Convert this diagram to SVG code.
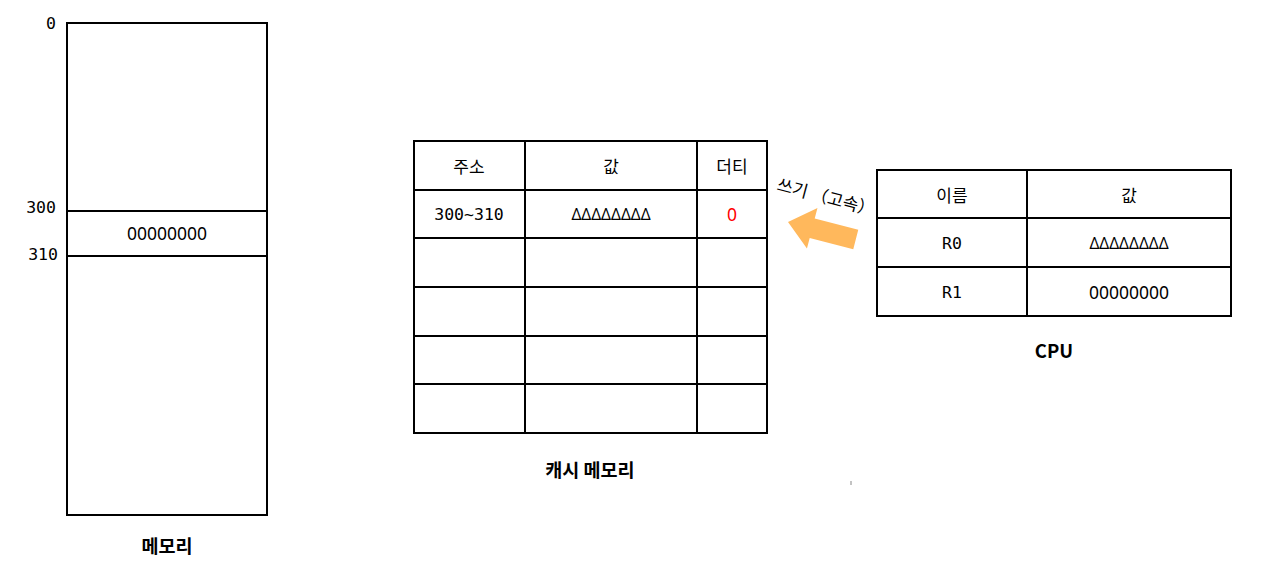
<svg xmlns="http://www.w3.org/2000/svg" width="1264" height="571" viewBox="0 0 1264 571">
<style>
.box{fill:#fff;stroke:#000;stroke-width:2}
.ln{stroke:#000;stroke-width:2;fill:none}
.mono{font-family:"DejaVu Sans Mono","Noto Sans CJK KR",monospace;font-size:16.5px;fill:#000}
.t{font-family:"Noto Sans","Noto Sans CJK KR",sans-serif;font-size:17.5px;fill:#000;text-anchor:middle;dominant-baseline:central}
.d{font-size:15.5px}
.kr{font-family:"Noto Sans CJK KR",sans-serif;font-size:17px;fill:#000;text-anchor:middle;dominant-baseline:central}
.lbl{font-family:"Noto Sans CJK KR","Noto Sans",sans-serif;font-size:18.5px;font-weight:bold;fill:#000;text-anchor:middle;dominant-baseline:central}
</style>
<rect width="1264" height="571" fill="#fff"/>
<g id="memory">
<rect class="box" x="67" y="23" width="200" height="492"/>
<line class="ln" x1="67" y1="211" x2="267" y2="211"/>
<line class="ln" x1="67" y1="256" x2="267" y2="256"/>
<text class="t" x="167" y="233">00000000</text>
<text class="mono" x="56" y="23" text-anchor="end" dominant-baseline="central">0</text>
<text class="mono" x="56" y="207" text-anchor="end" dominant-baseline="central">300</text>
<text class="mono" x="58" y="254" text-anchor="end" dominant-baseline="central">310</text>
<text class="lbl" x="167" y="545">메모리</text>
</g>
<g id="cache">
<rect class="box" x="414" y="141" width="353" height="292"/>
<line class="ln" x1="525" y1="141" x2="525" y2="433"/>
<line class="ln" x1="697" y1="141" x2="697" y2="433"/>
<line class="ln" x1="414" y1="190" x2="767" y2="190"/>
<line class="ln" x1="414" y1="238" x2="767" y2="238"/>
<line class="ln" x1="414" y1="287" x2="767" y2="287"/>
<line class="ln" x1="414" y1="336" x2="767" y2="336"/>
<line class="ln" x1="414" y1="384" x2="767" y2="384"/>
<text class="kr" x="469" y="165">주소</text>
<text class="kr" x="611" y="165">값</text>
<text class="kr" x="732" y="165">더티</text>
<text class="mono" x="469" y="214" text-anchor="middle" dominant-baseline="central">300~310</text>
<text class="t d" x="611" y="214">ΔΔΔΔΔΔΔΔ</text>
<text class="t" x="732" y="214" style="fill:#f00">0</text>
<text class="lbl" x="590" y="469">캐시 메모리</text>
</g>
<g id="cpu">
<rect class="box" x="877" y="170" width="354" height="146"/>
<line class="ln" x1="1027" y1="170" x2="1027" y2="316"/>
<line class="ln" x1="877" y1="218" x2="1231" y2="218"/>
<line class="ln" x1="877" y1="267" x2="1231" y2="267"/>
<text class="kr" x="952" y="194">이름</text>
<text class="kr" x="1129" y="194">값</text>
<text class="mono" x="952" y="243" text-anchor="middle" dominant-baseline="central">R0</text>
<text class="t d" x="1129" y="243">ΔΔΔΔΔΔΔΔ</text>
<text class="mono" x="952" y="292" text-anchor="middle" dominant-baseline="central">R1</text>
<text class="t" x="1129" y="292">00000000</text>
<text class="lbl" x="1054" y="350">CPU</text>
</g>
<g id="connectors">
<polygon transform="translate(788,222) rotate(14.5)" points="0,0 25,-21 25,-10 70,-10 70,10 25,10 25,21" fill="#FFB85C"/>
<text transform="translate(776,190) rotate(15)" font-family="'Noto Sans CJK KR',sans-serif" font-size="17" fill="#000">쓰기 （고속）</text>
</g>
<line x1="851" y1="481" x2="851" y2="485" stroke="#888" stroke-width="1"/>
</svg>
